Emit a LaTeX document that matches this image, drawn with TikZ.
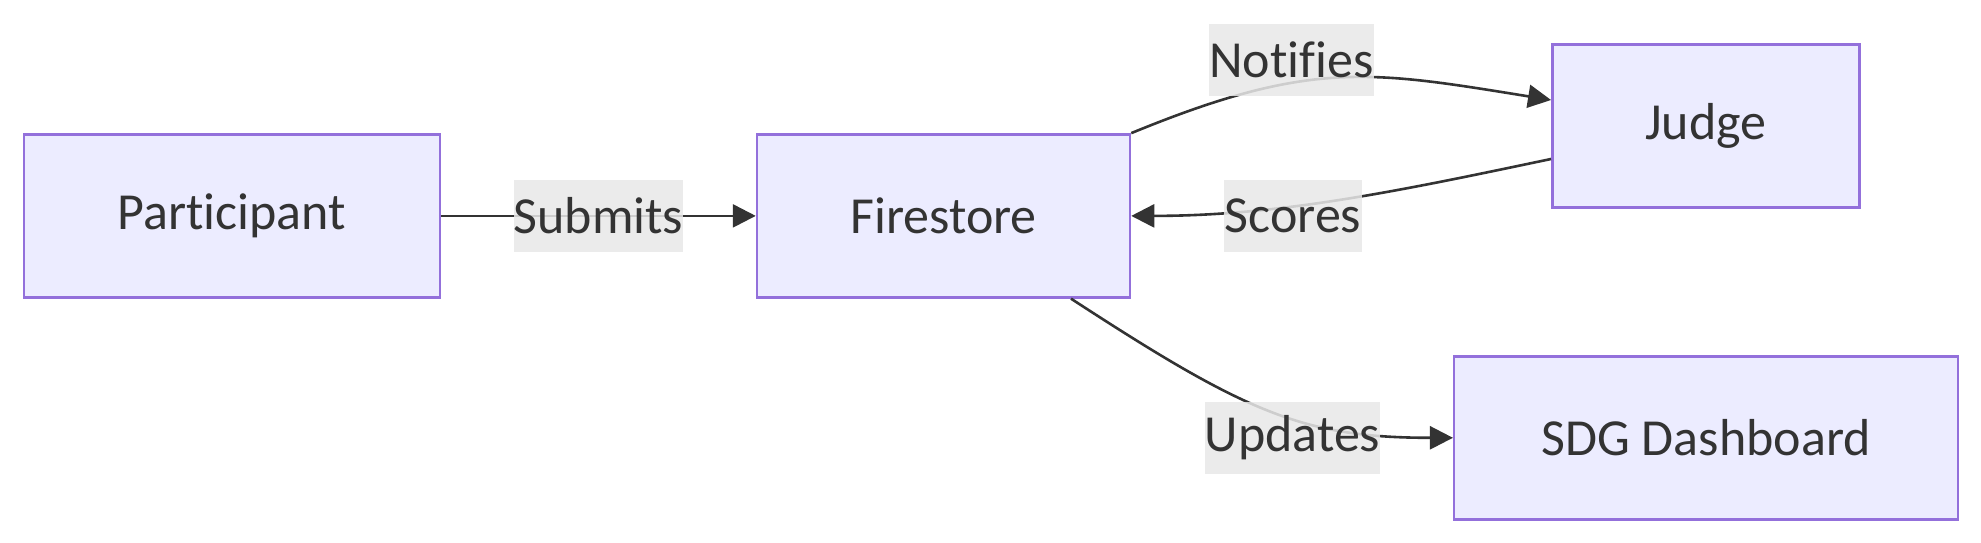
\documentclass[tikz,border=0pt]{standalone}
\usepackage{fontspec}
\setmainfont[Ligatures={NoCommon,NoRequired,NoContextual}]{Carlito}
\usetikzlibrary{arrows.meta}
\definecolor{nodefill}{HTML}{ECECFF}
\definecolor{nodeline}{HTML}{9370DB}
\definecolor{ink}{HTML}{333333}
\definecolor{lblgray}{HTML}{E8E8E8}
\tikzset{
  box/.style={draw=nodeline, fill=nodefill, line width=2.5pt, minimum height=163pt,
    inner sep=0pt, text=ink, font=\fontsize{52}{60}\selectfont},
  lbl/.style={fill=lblgray, fill opacity=0.85, text opacity=1, text=ink, inner sep=0pt,
    minimum height=72pt, font=\fontsize{52}{60}\selectfont},
  conn/.style={draw=ink, line width=2.6pt, -{Triangle[length=23pt,width=23pt]}},
}
\begin{document}
\begin{tikzpicture}[x=1pt,y=1pt]
\useasboundingbox (0,0) rectangle (1981,543);
\node[box, minimum width=416pt] (part) at (231.75,327.1) {Participant};
\node[box, minimum width=373pt] (fire) at (943.5,327.1) {Firestore};
\node[box, minimum width=307pt] (judge) at (1705.8,417) {Judge};
\node[box, minimum width=504pt] (sdg) at (1706.2,105.2) {SDG Dashboard};

\draw[conn] (part.east) -- (fire.west);
\draw[conn] (fire.north east) .. controls +(180,74) and +(-180,29) .. ([yshift=26pt]judge.west);
\draw[conn] ([yshift=-33pt]judge.west) .. controls +(-150,-31.5) and +(150,0) .. (fire.east);
\draw[conn] ([xshift=127.5pt]fire.south) .. controls +(175,-114) and +(-150,0) .. (sdg.west);

\node[lbl, minimum width=169pt] (lsub) at (598.5,327) {Submits};
\node[lbl, minimum width=165pt] (lnot) at (1291.5,483) {Notifies};
\node[lbl, minimum width=138pt] (lsco) at (1293,327) {Scores};
\node[lbl, minimum width=173pt] (lupd) at (1292.5,105.3) {Updates};
\end{tikzpicture}
\end{document}
